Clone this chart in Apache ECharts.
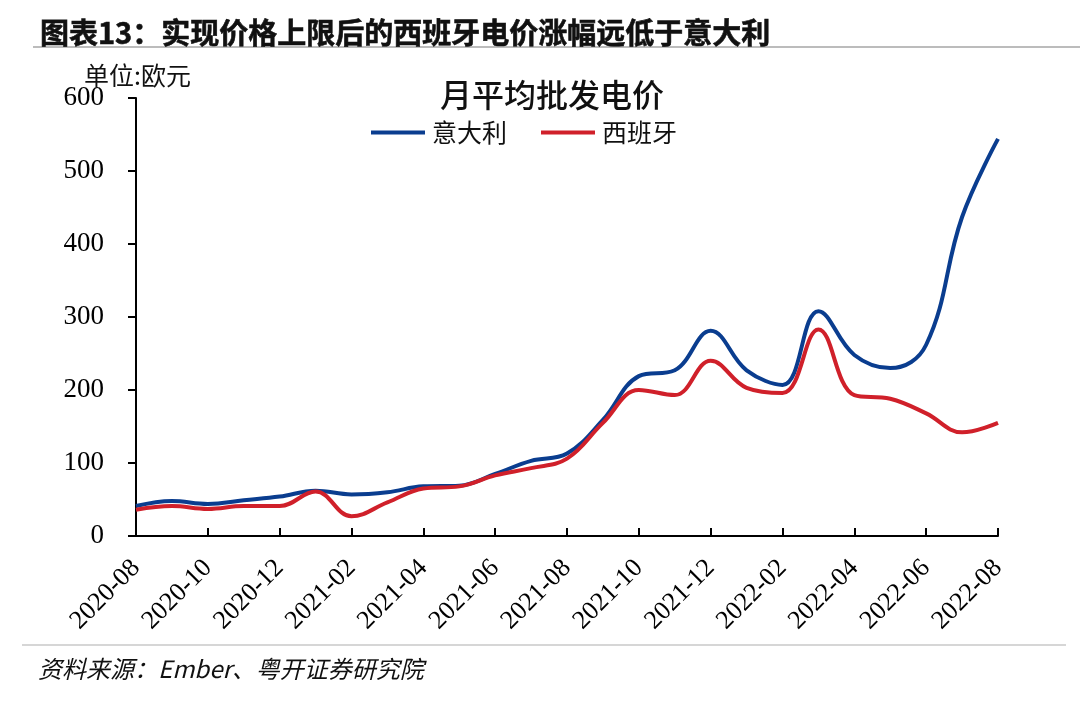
<!DOCTYPE html>
<html><head><meta charset="utf-8">
<script src="https://cdn.jsdelivr.net/npm/echarts@6/dist/echarts.min.js"></script>
<style>html,body{margin:0;padding:0;background:#fff}#c{width:1080px;height:701px}</style>
</head><body><div id="c"></div>
<script>
const months = ['2020-08','2020-09','2020-10','2020-11','2020-12','2021-01','2021-02','2021-03','2021-04','2021-05','2021-06','2021-07','2021-08','2021-09','2021-10','2021-11','2021-12','2022-01','2022-02','2022-03','2022-04','2022-05','2022-06','2022-07','2022-08'];
const italy = [41,48,44,49,54,62,57,60,68,69,85,103,113,159,219,227,281,227,207,308,248,230,262,437,544];
const spain = [36,41,37,41,41,61,27,46,65,68,83,93,106,155,200,193,240,203,196,283,193,188,168,142,155];
const yTicks = [0,100,200,300,400,500,600];

const chart = echarts.init(document.getElementById('c'));
const serif = '"Liberation Serif","Times New Roman",serif';
const cjk = '"Noto Sans CJK SC",sans-serif';
chart.setOption({
  animation:false,
  backgroundColor:'#fff',
  title:[
    {text:'图表13：实现价格上限后的西班牙电价涨幅远低于意大利',left:35,top:13,textStyle:{fontFamily:cjk,fontSize:29,fontWeight:'bold',color:'#111',textBorderColor:'#111',textBorderWidth:0.6}},
    {text:'月平均批发电价',left:547,top:74,textAlign:'center',textStyle:{fontFamily:cjk,fontSize:32,fontWeight:500,color:'#111'}},
    {text:'单位:欧元',left:79,top:58,textStyle:{fontFamily:cjk,fontSize:25,fontWeight:'normal',color:'#111'}},
    {text:'资料来源：Ember、粤开证券研究院',left:33,top:652,textStyle:{fontFamily:cjk,fontSize:24,fontStyle:'italic',fontWeight:'normal',color:'#111'}}
  ],
  legend:{top:115,left:366,itemWidth:54,itemHeight:4,itemGap:34,
    textStyle:{fontFamily:cjk,fontSize:25,color:'#111',padding:[0,0,0,2]},
    data:[{name:'意大利',icon:'rect'},{name:'西班牙',icon:'rect'}]},
  graphic:[
    {type:'line',shape:{x1:33,y1:47,x2:1080,y2:47},style:{stroke:'#a6a6a6',lineWidth:1.5}},
    {type:'line',shape:{x1:22,y1:645,x2:1066,y2:645},style:{stroke:'#c8c8c8',lineWidth:1.5}}
  ],
  grid:{left:136,right:82,top:98,bottom:165},
  xAxis:{type:'category',data:months,boundaryGap:false,
    axisLine:{lineStyle:{color:'#000',width:2}},
    axisTick:{inside:true,length:8,interval:1,lineStyle:{color:'#000',width:2}},
    axisLabel:{interval:1,rotate:45,fontFamily:serif,fontSize:26,color:'#000',margin:28}},
  yAxis:{type:'value',min:0,max:600,interval:100,
    splitLine:{show:false},
    axisLine:{show:true,lineStyle:{color:'#000',width:2}},
    axisTick:{show:true,inside:false,length:8,lineStyle:{color:'#000',width:2}},
    axisLabel:{fontFamily:serif,fontSize:27,color:'#000',margin:32,
      formatter:v=>yTicks.includes(v)?String(v):''}},
  series:[
    {name:'意大利',type:'line',data:italy,smooth:0.4,symbol:'none',lineStyle:{color:'#0a3d8f',width:4},itemStyle:{color:'#0a3d8f'}},
    {name:'西班牙',type:'line',data:spain,smooth:0.4,symbol:'none',lineStyle:{color:'#d0202a',width:4},itemStyle:{color:'#d0202a'}}
  ]
});
</script></body></html>
